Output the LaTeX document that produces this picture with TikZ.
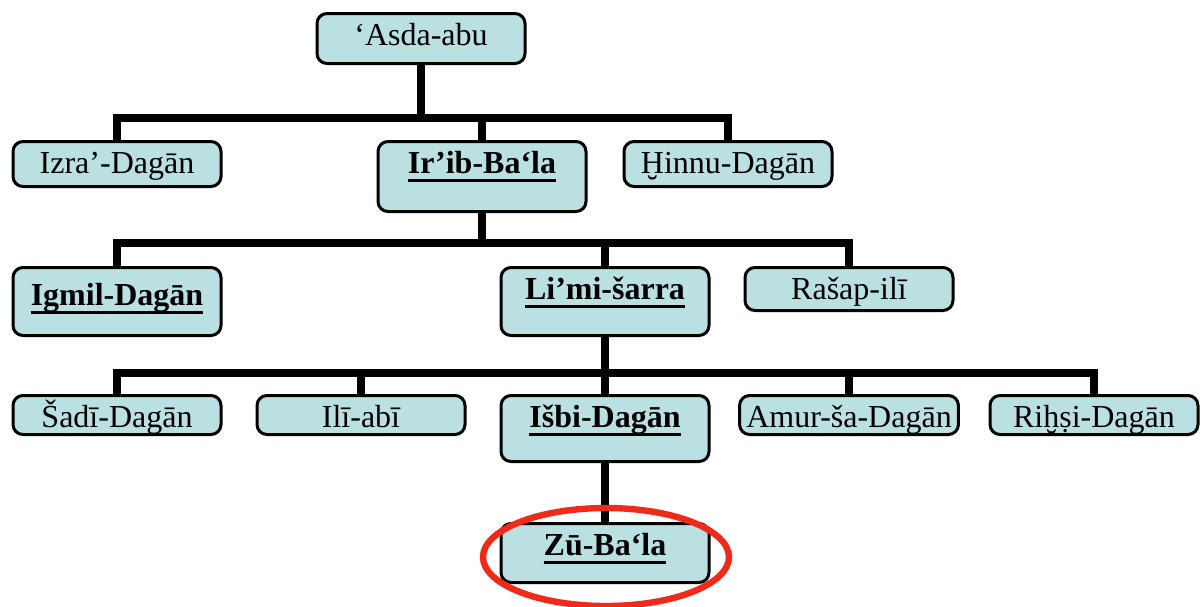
\documentclass[tikz,border=0pt]{standalone}
\usepackage{fontspec}
\setmainfont{Liberation Serif}
\usetikzlibrary{positioning}
\definecolor{boxfill}{HTML}{BBE0E1}
\definecolor{ringred}{HTML}{F02A1A}
\newcommand{\heir}[1]{\setbox0\hbox{\bfseries #1}\rlap{\rule[-4pt]{\wd0}{1.3pt}}\box0}
\tikzset{
  person/.style = {rectangle, rounded corners=5pt, draw=black, fill=boxfill, line width=1.5pt,
                   minimum width=104pt, text height=14pt, inner ysep=2pt, anchor=north,
                   font=\fontsize{16}{18}\selectfont},
  deep/.style   = {text depth=#1},
  link/.style   = {line width=4pt, draw=black},
  ring/.style   = {draw=ringred, line width=3.2pt},
}

\begin{document}
\begin{tikzpicture}[x=0.5pt, y=-0.5pt]
  \useasboundingbox (0,0) rectangle (1200,606);

  %% ---- generation 1 ------------------------------------------------------
  \node[person, deep=7pt] (asda) at (421,12) {‘Asda-abu};

  %% ---- generation 2 ------------------------------------------------------
  \node[person, deep=4.5pt] (izra)  at (117,140) {Izra’-Dagān};
  \node[person, deep=17pt]  (irib)  at (482,140) {\heir{Ir’ib-Ba‘la}};
  \node[person, deep=4.5pt] (hinnu) at (728,140) {Ḫinnu-Dagān};

  %% ---- generation 3 ------------------------------------------------------
  \node[person, deep=13pt, text height=17pt] (igmil) at (117,266) {\heir{Igmil-Dagān}};
  \node[person, deep=16pt]  (limi)  at (605,266) {\heir{Li’mi-šarra}};
  \node[person, deep=3.5pt] (rasap) at (849,266) {Rašap-ilī};

  %% ---- generation 4 ------------------------------------------------------
  \node[person, deep=1.5pt] (sadi)  at (117,394)  {Šadī-Dagān};
  \node[person, deep=1.5pt] (ili)   at (361,394)  {Ilī-abī};
  \node[person, deep=15pt]  (isbi)  at (605,394)  {\heir{Išbi-Dagān}};
  \node[person, deep=1.5pt] (amur)  at (849,394)  {Amur-ša-Dagān};
  \node[person, deep=1.5pt] (rihsi) at (1094,394) {Riḫṣi-Dagān};

  %% ---- generation 5 ------------------------------------------------------
  \node[person, deep=11.5pt] (zu) at (605,522) {\heir{Zū-Ba‘la}};

  % the family lines
  \coordinate (bus1) at (421,118);
  \draw[link] (asda.south) -- (bus1);
  \draw[link] (izra.north) |- (bus1) -| (hinnu.north);
  \draw[link] (irib.north) -- (irib.north |- bus1);

  \coordinate (bus2) at (482,243);
  \draw[link] (irib.south) -- (bus2);
  \draw[link] (igmil.north) |- (bus2) -| (rasap.north);
  \draw[link] (limi.north) -- (limi.north |- bus2);

  \coordinate (bus3) at (605,373);
  \draw[link] (limi.south) -- (bus3);
  \draw[link] (sadi.north) |- (bus3) -| (rihsi.north);
  \foreach \n in {ili,isbi,amur} { \draw[link] (\n.north) -- (\n.north |- bus3); }

  \draw[link] (isbi.south) -- (zu.north);

  % the ring round the last heir
  \draw[ring] (606,557) ellipse [x radius=123, y radius=49];
\end{tikzpicture}
\end{document}
